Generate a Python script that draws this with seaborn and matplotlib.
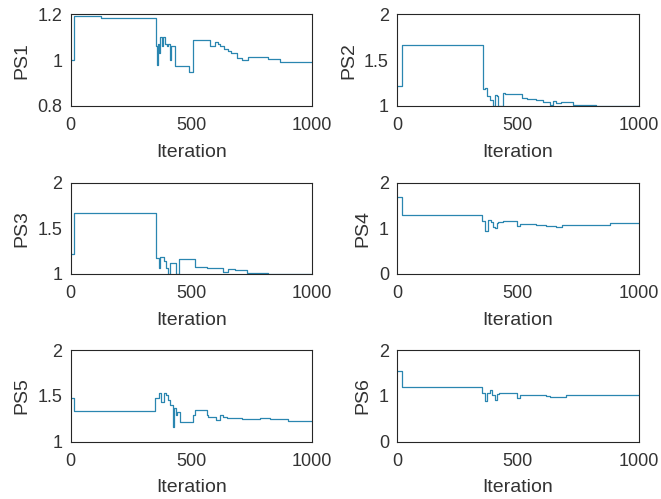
import numpy as np
import pandas as pd
import matplotlib
matplotlib.use('Agg')
import matplotlib.pyplot as plt
import seaborn as sns

# step points: (iteration, value)
ps1_x = [0, 12, 127, 353, 357, 362, 367, 372, 378, 383, 390, 398, 405, 410, 416, 425, 432,
         490, 505, 560, 577, 600, 610, 620, 635, 650, 665, 690, 710, 736, 819, 867, 1000]
ps1_y = [1.00, 1.193, 1.183, 1.06, 0.98, 1.07, 1.03, 1.10, 1.06, 1.10, 1.07, 1.06, 1.07, 1.00,
         1.06, 1.06, 0.973, 0.95, 1.09, 1.09, 1.06, 1.08, 1.07, 1.06, 1.05, 1.04, 1.03, 1.01,
         1.00, 1.012, 1.007, 0.992, 0.992]

ps2_x = [0, 19, 354, 357, 364, 371, 384, 398, 405, 412, 419, 439, 446, 453, 515, 536, 577,
         605, 632, 646, 660, 680, 729, 825, 1000]
ps2_y = [1.212, 1.67, 1.267, 1.183, 1.194, 1.102, 1.066, 1.0, 1.121, 1.11, 1.0, 1.14, 1.129,
         1.129, 1.084, 1.077, 1.058, 1.04, 1.011, 1.055, 1.03, 1.044, 1.011, 1.0, 1.0]

ps3_x = [0, 12, 353, 355, 365, 369, 386, 394, 404, 411, 438, 448, 515, 563, 632, 653, 680,
         729, 819, 1000]
ps3_y = [1.22, 1.666, 1.28, 1.175, 1.065, 1.19, 1.14, 1.065, 1.0, 1.12, 1.0, 1.16, 1.08, 1.07,
         1.02, 1.055, 1.04, 1.01, 1.0, 1.0]

ps4_x = [0, 19, 350, 364, 377, 387, 398, 405, 412, 419, 439, 495, 508, 529, 577, 618, 660,
         681, 880, 1000]
ps4_y = [1.68, 1.286, 1.15, 0.948, 1.188, 1.128, 1.038, 1.0, 1.113, 1.128, 1.15, 1.053, 1.098,
         1.098, 1.075, 1.06, 1.038, 1.075, 1.113, 1.113]

ps5_x = [0, 12, 349, 366, 376, 386, 394, 404, 411, 422, 427, 436, 441, 452, 508, 514, 563,
         570, 604, 618, 632, 646, 708, 784, 826, 902, 1000]
ps5_y = [1.473, 1.335, 1.473, 1.535, 1.437, 1.528, 1.509, 1.455, 1.40, 1.164, 1.364, 1.291,
         1.327, 1.218, 1.291, 1.346, 1.291, 1.273, 1.237, 1.291, 1.273, 1.255, 1.244, 1.255,
         1.244, 1.229, 1.229]

ps6_x = [0, 19, 350, 364, 374, 384, 391, 405, 412, 423, 495, 508, 536, 618, 632, 653, 701, 1000]
ps6_y = [1.55, 1.186, 1.055, 0.895, 1.055, 1.128, 1.018, 0.91, 1.033, 1.055, 0.96, 1.018,
         1.018, 1.004, 0.967, 0.982, 1.011, 1.011]

names = ['PS1', 'PS2', 'PS3', 'PS4', 'PS5', 'PS6']
xs = [ps1_x, ps2_x, ps3_x, ps4_x, ps5_x, ps6_x]
ys = [ps1_y, ps2_y, ps3_y, ps4_y, ps5_y, ps6_y]
ylims = [(0.8, 1.2), (1, 2), (1, 2), (0, 2), (1, 2), (0, 2)]
yticks = [[0.8, 1, 1.2], [1, 1.5, 2], [1, 1.5, 2], [0, 1, 2], [1, 1.5, 2], [0, 1, 2]]
xticks = [0, 500, 1000]

sns.set_style('white')
plt.rcParams['font.family'] = ['Liberation Sans', 'DejaVu Sans']

fig = plt.figure(figsize=(6.61, 4.99), dpi=100)
lefts = [0.107, 0.601]
bottoms = [0.788, 0.451, 0.115]
w, h = 0.365, 0.183

for i, name in enumerate(names):
    r, c = divmod(i, 2)
    ax = fig.add_axes([lefts[c], bottoms[r], w, h])
    df = pd.DataFrame({'Iteration': xs[i], name: ys[i]})
    sns.lineplot(data=df, x='Iteration', y=name, ax=ax, color='#2a86b0', lw=0.9,
                 drawstyle='steps-post', estimator=None)
    ax.set_xlim(0, 1000)
    ax.set_ylim(*ylims[i])
    ax.set_xticks(xticks)
    ax.set_yticks(yticks[i])
    ax.set_yticklabels([f'{t:g}' for t in yticks[i]])
    ax.tick_params(length=0, labelsize=13, colors='#333333')
    ax.tick_params(axis='x', pad=8)
    ax.tick_params(axis='y', pad=6)
    ax.set_xlabel('Iteration', fontsize=14, color='#333333', labelpad=7)
    ax.set_ylabel(name, fontsize=14, color='#333333', labelpad=5)
    for s in ax.spines.values():
        s.set_color('#262626')
        s.set_linewidth(0.8)

fig.savefig('out.png', dpi=100)
